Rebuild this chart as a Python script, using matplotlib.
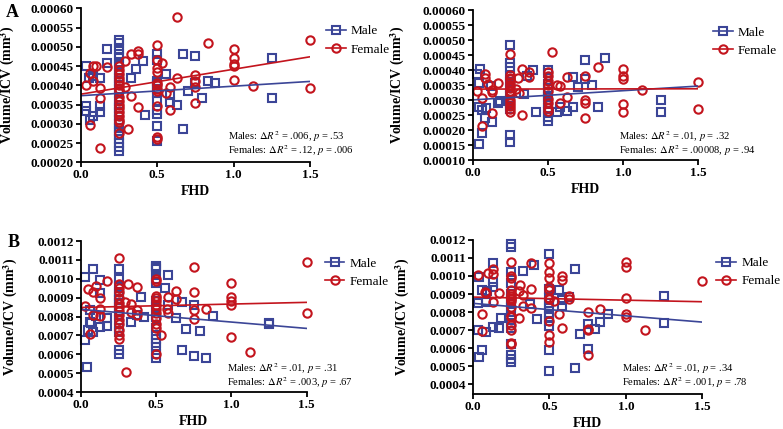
import matplotlib
matplotlib.use("Agg")
import matplotlib.pyplot as plt
from matplotlib.ticker import MultipleLocator, FormatStrFormatter
from matplotlib.lines import Line2D

plt.rcParams['font.family'] = ['Liberation Serif', 'DejaVu Serif']
plt.rcParams['mathtext.fontset'] = 'stix'

BLUE = '#3b4597'
RED = '#c3141d'

# ---- panel A, left ----
a1_male_x = [0.03, 0.03, 0.03, 0.055, 0.08, 0.06, 0.08, 0.125, 0.125, 0.125, 0.17, 0.17,
             0.25, 0.25, 0.25, 0.25, 0.25, 0.25, 0.25, 0.25, 0.25, 0.25, 0.25, 0.25, 0.25, 0.25,
             0.25, 0.25, 0.25, 0.25, 0.25, 0.25, 0.25, 0.25, 0.25, 0.25, 0.25, 0.25, 0.25,
             0.33, 0.36, 0.405, 0.42,
             0.5, 0.5, 0.5, 0.5, 0.5, 0.5, 0.5, 0.5, 0.5, 0.5, 0.5, 0.5,
             0.56, 0.58, 0.58, 0.63, 0.67, 0.67, 0.7, 0.75, 0.75, 0.79, 0.83, 0.88, 1.25, 1.25]
a1_male_y = [0.000450, 0.000347, 0.000332, 0.000420, 0.000425, 0.000310, 0.000320, 0.000418,
             0.000345, 0.000330, 0.000457, 0.000495,
             0.000518, 0.000510, 0.000495, 0.000480, 0.000470, 0.000455, 0.000440, 0.000430,
             0.000420, 0.000410, 0.000400, 0.000390, 0.000380, 0.000360, 0.000350, 0.000340,
             0.000330, 0.000320, 0.000310, 0.000300, 0.000290, 0.000280, 0.000270, 0.000260,
             0.000250, 0.000240, 0.000230,
             0.000418, 0.000443, 0.000463, 0.000322,
             0.000480, 0.000465, 0.000410, 0.000405, 0.000400, 0.000390, 0.000380, 0.000360,
             0.000335, 0.000325, 0.000293, 0.000255,
             0.000430, 0.000375, 0.000357, 0.000348, 0.000480, 0.000287, 0.000385, 0.000477,
             0.000405, 0.000367, 0.000410, 0.000405, 0.000470, 0.000367]
a1_female_x = [0.03, 0.06, 0.06, 0.08, 0.1, 0.08, 0.125, 0.125, 0.125, 0.17,
               0.25, 0.25, 0.25, 0.25, 0.25, 0.25, 0.25, 0.25, 0.25, 0.25, 0.25, 0.25, 0.25,
               0.25, 0.25, 0.25, 0.25,
               0.29, 0.29, 0.31, 0.33, 0.33, 0.375, 0.375, 0.375,
               0.5, 0.5, 0.5, 0.5, 0.5, 0.5, 0.5, 0.5, 0.5, 0.5, 0.5,
               0.53, 0.56, 0.58, 0.58, 0.63, 0.63, 0.75, 0.75, 0.75, 0.75, 0.83,
               1.0, 1.0, 1.0, 1.0, 1.0, 1.125, 1.5, 1.5]
a1_female_y = [0.000400, 0.000433, 0.000297, 0.000450, 0.000450, 0.000410, 0.000393, 0.000367,
               0.000238, 0.000447,
               0.000450, 0.000440, 0.000430, 0.000420, 0.000410, 0.000400, 0.000390, 0.000385,
               0.000370, 0.000360, 0.000350, 0.000340, 0.000330, 0.000320, 0.000310, 0.000305,
               0.000275,
               0.000463, 0.000395, 0.000287, 0.000480, 0.000373, 0.000490, 0.000480, 0.000343,
               0.000505, 0.000465, 0.000445, 0.000435, 0.000405, 0.000400, 0.000390, 0.000385,
               0.000345, 0.000265, 0.000260,
               0.000458, 0.000380, 0.000395, 0.000335, 0.000578, 0.000420, 0.000427, 0.000410,
               0.000395, 0.000355, 0.000510,
               0.000495, 0.000472, 0.000455, 0.000450, 0.000413, 0.000398, 0.000518, 0.000392]
a1_male_fit = [0.000373, 0.000410]
a1_female_fit = [0.000377, 0.000474]

# ---- panel A, right ----
a2_male_x = [0.03, 0.04, 0.04, 0.05, 0.06, 0.06, 0.04, 0.08, 0.09, 0.125, 0.13, 0.17, 0.18,
             0.25, 0.25, 0.25, 0.25, 0.25, 0.25, 0.25, 0.25, 0.25, 0.25, 0.25, 0.25, 0.25,
             0.34, 0.36, 0.4, 0.42,
             0.5, 0.5, 0.5, 0.5, 0.5, 0.5, 0.5, 0.5, 0.5, 0.5, 0.5,
             0.56, 0.58, 0.63, 0.67, 0.67, 0.7, 0.75, 0.75, 0.79, 0.83, 0.88, 1.25, 1.25]
a2_male_y = [0.000387, 0.000358, 0.000276, 0.000405, 0.000268, 0.000190, 0.000155, 0.000240,
             0.000275, 0.000348, 0.000228, 0.000290, 0.000297,
             0.000485, 0.000425, 0.000410, 0.000380, 0.000360, 0.000340, 0.000320, 0.000300,
             0.000290, 0.000280, 0.000270, 0.000185, 0.000160,
             0.000322, 0.000380, 0.000400, 0.000262,
             0.000400, 0.000390, 0.000355, 0.000340, 0.000325, 0.000310, 0.000290, 0.000275,
             0.000260, 0.000245, 0.000230,
             0.000262, 0.000278, 0.000265, 0.000377, 0.000278, 0.000343, 0.000433, 0.000370,
             0.000352, 0.000278, 0.000442, 0.000302, 0.000260]
a2_female_x = [0.03, 0.06, 0.06, 0.08, 0.08, 0.1, 0.13, 0.13, 0.13, 0.17,
               0.25, 0.25, 0.25, 0.25, 0.25, 0.25, 0.25, 0.25, 0.25, 0.25, 0.25, 0.25, 0.25, 0.25,
               0.29, 0.3, 0.31, 0.33, 0.33, 0.375, 0.375,
               0.5, 0.5, 0.5, 0.5, 0.5, 0.5, 0.5, 0.5, 0.5,
               0.53, 0.56, 0.58, 0.58, 0.63, 0.63, 0.75, 0.75, 0.75, 0.75, 0.83,
               1.0, 1.0, 1.0, 1.0, 1.0, 1.125, 1.5, 1.5]
a2_female_y = [0.000332, 0.000308, 0.000214, 0.000388, 0.000375, 0.000355, 0.000335, 0.000328,
               0.000256, 0.000357,
               0.000453, 0.000385, 0.000375, 0.000370, 0.000360, 0.000350, 0.000340, 0.000330,
               0.000320, 0.000300, 0.000290, 0.000280, 0.000270, 0.000260,
               0.000336, 0.000375, 0.000325, 0.000405, 0.000250, 0.000395, 0.000376,
               0.000395, 0.000380, 0.000365, 0.000350, 0.000330, 0.000305, 0.000290, 0.000275,
               0.000265,
               0.000460, 0.000352, 0.000346, 0.000290, 0.000376, 0.000310, 0.000380, 0.000302,
               0.000290, 0.000240, 0.000412,
               0.000403, 0.000380, 0.000370, 0.000287, 0.000260, 0.000334, 0.000362, 0.000270]
a2_male_fit = [0.000301, 0.000347]
a2_female_fit = [0.000337, 0.000338]

# ---- panel B, left ----
b1_male_x = [0.03, 0.03, 0.04, 0.05, 0.06, 0.06, 0.08, 0.08, 0.07, 0.1, 0.125, 0.125, 0.125,
             0.17, 0.17,
             0.25, 0.25, 0.25, 0.25, 0.25, 0.25, 0.25, 0.25, 0.25, 0.25, 0.25, 0.25, 0.25,
             0.25, 0.25,
             0.33, 0.375, 0.4, 0.42,
             0.5, 0.5, 0.5, 0.5, 0.5, 0.5, 0.5, 0.5, 0.5, 0.5, 0.5, 0.5, 0.5, 0.5, 0.5,
             0.56, 0.58, 0.58, 0.63, 0.67, 0.67, 0.7, 0.75, 0.75, 0.79, 0.83, 0.88, 1.25, 1.25]
b1_male_y = [0.000675, 0.001010, 0.000535, 0.000728, 0.000770, 0.000833, 0.001050, 0.000720,
             0.000765, 0.000805, 0.000993, 0.000923, 0.000745, 0.000790, 0.000750,
             0.001050, 0.001000, 0.000960, 0.000930, 0.000910, 0.000890, 0.000870, 0.000850,
             0.000830, 0.000810, 0.000780, 0.000740, 0.000720, 0.000620, 0.000600,
             0.000770, 0.000808, 0.000905, 0.000800,
             0.001070, 0.001060, 0.001050, 0.001000, 0.000980, 0.000880, 0.000850, 0.000800,
             0.000740, 0.000700, 0.000680, 0.000660, 0.000640, 0.000600, 0.000580,
             0.000950, 0.001020, 0.000860, 0.000790, 0.000875, 0.000620, 0.000732, 0.000860,
             0.000590, 0.000725, 0.000578, 0.000805, 0.000768, 0.000758]
b1_female_x = [0.03, 0.05, 0.06, 0.08, 0.08, 0.1, 0.125, 0.125, 0.125, 0.17,
               0.25, 0.25, 0.25, 0.25, 0.25, 0.25, 0.25, 0.25, 0.25, 0.25, 0.25, 0.25, 0.25, 0.25,
               0.29, 0.31, 0.3, 0.33, 0.33, 0.375, 0.375, 0.375,
               0.5, 0.5, 0.5, 0.5, 0.5, 0.5, 0.5, 0.5, 0.5, 0.5, 0.5, 0.5,
               0.53, 0.57, 0.58, 0.58, 0.63, 0.63, 0.75, 0.75, 0.75, 0.75, 0.83,
               1.0, 1.0, 1.0, 1.0, 1.0, 1.125, 1.5, 1.5]
b1_female_y = [0.000855, 0.000945, 0.000710, 0.000930, 0.000808, 0.000960, 0.000900, 0.000838,
               0.000802, 0.000990,
               0.001110, 0.000970, 0.000950, 0.000930, 0.000900, 0.000870, 0.000850, 0.000830,
               0.000810, 0.000780, 0.000760, 0.000730, 0.000700, 0.000680,
               0.000875, 0.000970, 0.000507, 0.000865, 0.000825, 0.000958, 0.000835, 0.000810,
               0.001000, 0.000990, 0.000910, 0.000900, 0.000880, 0.000860, 0.000840, 0.000820,
               0.000790, 0.000760, 0.000740, 0.000600,
               0.000702, 0.000840, 0.000905, 0.000818, 0.000935, 0.000895, 0.001060, 0.000930,
               0.000835, 0.000787, 0.000838,
               0.000978, 0.000905, 0.000882, 0.000860, 0.000693, 0.000612, 0.001090, 0.000820]
b1_male_fit = [0.000838, 0.000737]
b1_female_fit = [0.000848, 0.000875]

# ---- panel B, right ----
b2_male_x = [0.035, 0.035, 0.04, 0.04, 0.06, 0.06, 0.085, 0.085, 0.09, 0.13, 0.13, 0.13, 0.13,
             0.17, 0.18,
             0.25, 0.25, 0.25, 0.25, 0.25, 0.25, 0.25, 0.25, 0.25, 0.25, 0.25, 0.25, 0.25,
             0.25, 0.25,
             0.33, 0.37, 0.4, 0.42,
             0.5, 0.5, 0.5, 0.5, 0.5, 0.5, 0.5, 0.5, 0.5, 0.5, 0.5,
             0.56, 0.58, 0.58, 0.63, 0.67, 0.67, 0.7, 0.75, 0.75, 0.8, 0.83, 0.88, 1.25, 1.25]
b2_male_y = [0.000700, 0.000850, 0.000996, 0.000552, 0.000922, 0.000590, 0.000690, 0.000858,
             0.000914, 0.001070, 0.000968, 0.000940, 0.000718, 0.000710, 0.000768,
             0.001180, 0.001160, 0.001020, 0.000960, 0.000900, 0.000870, 0.000850, 0.000820,
             0.000800, 0.000740, 0.000710, 0.000620, 0.000560, 0.000540, 0.000520,
             0.001030, 0.000842, 0.001060, 0.000760,
             0.001120, 0.000930, 0.000880, 0.000850, 0.000820, 0.000790, 0.000770, 0.000750,
             0.000720, 0.000590, 0.000475,
             0.000922, 0.000867, 0.000835, 0.000885, 0.001040, 0.000490, 0.000678, 0.000733,
             0.000593, 0.000705, 0.000742, 0.000787, 0.000890, 0.000738]
b2_female_x = [0.035, 0.06, 0.06, 0.08, 0.085, 0.1, 0.13, 0.13, 0.13, 0.17,
               0.25, 0.25, 0.25, 0.25, 0.25, 0.25, 0.25, 0.25, 0.25, 0.25, 0.25, 0.25, 0.25, 0.25,
               0.25, 0.25,
               0.3, 0.31, 0.3, 0.33, 0.33, 0.38, 0.38, 0.38,
               0.5, 0.5, 0.5, 0.5, 0.5, 0.5, 0.5, 0.5, 0.5, 0.5,
               0.53, 0.56, 0.58, 0.58, 0.58, 0.63, 0.63, 0.75, 0.75, 0.75, 0.75, 0.83,
               1.0, 1.0, 1.0, 1.0, 1.0, 1.125, 1.5]
b2_female_y = [0.001005, 0.000787, 0.000695, 0.000913, 0.000904, 0.001015, 0.001040, 0.001010,
               0.000858, 0.000904,
               0.001080, 0.001000, 0.000990, 0.000920, 0.000900, 0.000890, 0.000880, 0.000870,
               0.000860, 0.000830, 0.000780, 0.000770, 0.000730, 0.000700, 0.000630, 0.000620,
               0.000918, 0.000950, 0.000768, 0.000895, 0.000835, 0.001070, 0.000928, 0.000825,
               0.001070, 0.001020, 0.000990, 0.000940, 0.000920, 0.000880, 0.000870, 0.000750,
               0.000675, 0.000635,
               0.000860, 0.000787, 0.001000, 0.000980, 0.000713, 0.000890, 0.000870, 0.000800,
               0.000708, 0.000700, 0.000560, 0.000815,
               0.001080, 0.001050, 0.000880, 0.000787, 0.000775, 0.000700, 0.000970]
b2_male_fit = [0.000848, 0.000744]
b2_female_fit = [0.000883, 0.000857]

fit_x = [0.0, 1.5]

a1_stats = [r"Males: $\Delta R^2$ = .006, $p$ = .53", r"Females: $\Delta R^2$ = .12, $p$ = .006"]
a2_stats = [r"Males: $\Delta R^2$ = .01, $p$ = .32", r"Females: $\Delta R^2$ = .00008, $p$ = .94"]
b1_stats = [r"Males: $\Delta R^2$ = .01, $p$ = .31", r"Females: $\Delta R^2$ = .003, $p$ = .67"]
b2_stats = [r"Males: $\Delta R^2$ = .01, $p$ = .34", r"Females: $\Delta R^2$ = .001, $p$ = .78"]


def draw_panel(ax, mx, my, fx, fy, mfit, ffit, stats, ylim, yticks, yfmt, stat_pos, leg_pos, ylab_x):
    ax.plot(mx, my, 's', ms=5.5, mfc='none', mec=BLUE, mew=1.5, clip_on=False)
    ax.plot(fx, fy, 'o', ms=6, mfc='none', mec=RED, mew=1.5, clip_on=False)
    ax.plot(fit_x, mfit, '-', color=BLUE, lw=1.2)
    ax.plot(fit_x, ffit, '-', color=RED, lw=1.2)

    ax.set_xlim(0, 1.5)
    ax.set_ylim(*ylim)
    ax.xaxis.set_major_locator(MultipleLocator(0.5))
    ax.xaxis.set_major_formatter(FormatStrFormatter('%.1f'))
    ax.set_yticks(yticks)
    ax.yaxis.set_major_formatter(FormatStrFormatter(yfmt))
    for side in ['top', 'right']:
        ax.spines[side].set_visible(False)
    for side in ['left', 'bottom']:
        ax.spines[side].set_linewidth(1.3)
    ax.tick_params(direction='out', length=3.5, width=1.3, labelsize=9.5, pad=1.5)
    for lab in ax.get_xticklabels() + ax.get_yticklabels():
        lab.set_fontweight('bold')

    ax.set_xlabel('FHD', fontsize=10, fontweight='bold', labelpad=3)
    ax.set_ylabel('Volume/ICV (mm$^{\\mathbf{3}}$)', fontsize=10, fontweight='bold')
    ax.yaxis.set_label_coords(ylab_x, 0.5)

    ax.text(stat_pos[0], stat_pos[1], stats[0], transform=ax.transAxes, fontsize=7.6, va='center')
    ax.text(stat_pos[0], stat_pos[2], stats[1], transform=ax.transAxes, fontsize=7.6, va='center')

    handles = [Line2D([], [], color=BLUE, lw=1.2, marker='s', ms=5.5, mfc='none', mew=1.5),
               Line2D([], [], color=RED, lw=1.2, marker='o', ms=6, mfc='none', mew=1.5)]
    ax.legend(handles, ['Male', 'Female'], loc='upper left', bbox_to_anchor=leg_pos,
              frameon=False, fontsize=9.5, handlelength=1.5, handletextpad=0.4,
              labelspacing=0.45, borderaxespad=0, borderpad=0)


yt_a1 = [0.00020, 0.00025, 0.00030, 0.00035, 0.00040, 0.00045, 0.00050, 0.00055, 0.00060]
yt_a2 = [0.00010, 0.00015, 0.00020, 0.00025, 0.00030, 0.00035, 0.00040, 0.00045, 0.00050,
         0.00055, 0.00060]
yt_b = [0.0004, 0.0005, 0.0006, 0.0007, 0.0008, 0.0009, 0.0010, 0.0011, 0.0012]

fig = plt.figure(figsize=(7.83, 4.29), dpi=100)

ax1 = fig.add_axes([0.1034, 0.6217, 0.2925, 0.359])
draw_panel(ax1, a1_male_x, a1_male_y, a1_female_x, a1_female_y, a1_male_fit, a1_female_fit,
           a1_stats, (0.0002, 0.0006), yt_a1, '%.5f', (0.64, 0.168, 0.078), (1.07, 0.89), -0.28)

ax2 = fig.add_axes([0.6037, 0.6263, 0.2881, 0.3503])
draw_panel(ax2, a2_male_x, a2_male_y, a2_female_x, a2_female_y, a2_male_fit, a2_female_fit,
           a2_stats, (0.0001, 0.0006), yt_a2, '%.5f', (0.65, 0.16, 0.068), (1.065, 0.89), -0.29)

ax3 = fig.add_axes([0.1034, 0.0862, 0.2882, 0.352])
draw_panel(ax3, b1_male_x, b1_male_y, b1_female_x, b1_female_y, b1_male_fit, b1_female_fit,
           b1_stats, (0.0004, 0.0012), yt_b, '%.4f', (0.647, 0.157, 0.066), (1.08, 0.89), -0.27)

ax4 = fig.add_axes([0.6041, 0.0809, 0.2929, 0.3597])
draw_panel(ax4, b2_male_x, b2_male_y, b2_female_x, b2_female_y, b2_male_fit, b2_female_fit,
           b2_stats, (0.000343, 0.0012), yt_b, '%.4f', (0.65, 0.167, 0.078), (1.06, 0.89), -0.265)

fig.text(0.008, 0.99, 'A', fontsize=13, fontweight='bold', va='top')
fig.text(0.01, 0.455, 'B', fontsize=13, fontweight='bold', va='top')

fig.savefig('out.png', dpi=100)
